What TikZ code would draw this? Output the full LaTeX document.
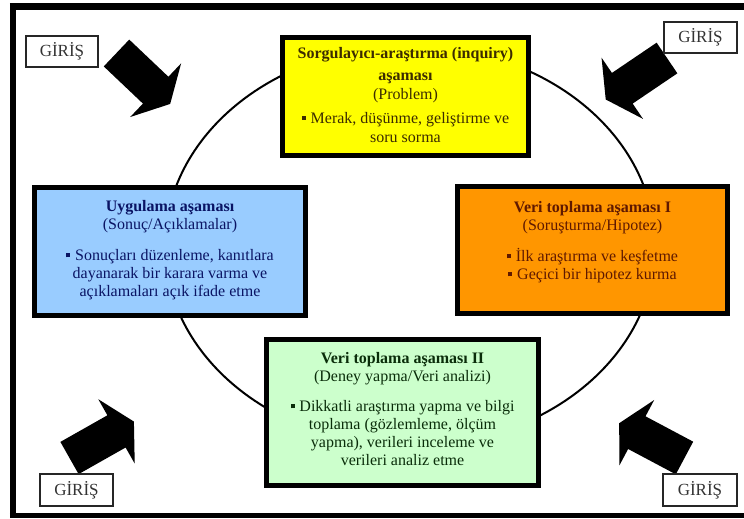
\documentclass[tikz,border=0pt]{standalone}
\usepackage{fontspec}
\setmainfont{Liberation Serif}
\usetikzlibrary{positioning}
\definecolor{probfill}{RGB}{255,255,0}
\definecolor{probink}{RGB}{60,44,0}
\definecolor{uygfill}{RGB}{153,204,255}
\definecolor{uygink}{RGB}{10,20,100}
\definecolor{veriAfill}{RGB}{255,150,0}
\definecolor{veriAink}{RGB}{95,25,0}
\definecolor{veriBfill}{RGB}{204,255,204}
\definecolor{veriBink}{RGB}{10,45,10}
\newcommand{\sqbullet}{\raisebox{0.2em}{\rule{0.26em}{0.26em}}\hspace{0.3em}}

\begin{document}
\begin{tikzpicture}[x=1pt,y=-1pt]
\tikzset{
  phasebox/.style={draw=black,line width=4.5pt,inner sep=0pt},
  phasetext/.style={align=center,inner sep=0pt,font=\fontsize{16}{18}\selectfont},
  girisbox/.style={draw=black!85,line width=1.2pt,fill=white,minimum width=73pt,
                   minimum height=31pt,inner sep=0pt,font=\fontsize{17}{20}\selectfont,text=black!80},
  entryarrow/.pic={\fill[black] (0,-18.5) -- (54,-18.5) -- (54,-37) -- (74,0)
                   -- (54,37) -- (54,18.5) -- (0,18.5) -- cycle;}
}
\useasboundingbox (0,0) rectangle (744,519);
\fill[white] (0,0) rectangle (744,519);
% outer frame, cut at the right
\draw[line width=7pt] (9.75,7) -- (760,7);
\draw[line width=6.5pt] (13,3.5) -- (13,518);
\draw[line width=5pt] (9.75,515.5) -- (760,515.5);
% the cycle
\draw[line width=2pt] (410,246) ellipse [x radius=245pt, y radius=200pt];
% entry arrows
\pic[rotate=-43.5] at (116.5,53) {entryarrow};
\pic[rotate=-145.9] at (667,58) {entryarrow};
\pic[rotate=29.5] at (69.5,458) {entryarrow};
\pic[rotate=152] at (684.5,458) {entryarrow};
% phases
\node[phasebox,fill=probfill,minimum width=246pt,minimum height=118pt] (prob) at (405.5,96.5) {};
\node[phasetext,text=probink,font=\fontsize{16}{19.5}\selectfont,below=12pt of prob.north] (probtext)
  {\textbf{Sorgulayıcı-araştırma (inquiry)}\\[2pt] \textbf{aşaması}\\ (Problem)\\[4pt]
   \sqbullet Merak, düşünme, geliştirme ve\\ soru sorma};
\node[phasebox,fill=veriAfill,minimum width=270pt,minimum height=127pt] (veriA) at (592.5,250) {};
\node[phasetext,text=veriAink,below=17pt of veriA.north] (veriAtext)
  {\textbf{Veri toplama aşaması I}\\ (Soruşturma/Hipotez)\\[13pt]
   \sqbullet İlk araştırma ve keşfetme\\ \sqbullet Geçici bir hipotez kurma};
\node[phasebox,fill=veriBfill,minimum width=272pt,minimum height=146pt] (veriB) at (402.5,412.5) {};
\node[phasetext,text=veriBink,below=15pt of veriB.north] (veriBtext)
  {\textbf{Veri toplama aşaması II}\\ (Deney yapma/Veri analizi)\\[12pt]
   \sqbullet Dikkatli araştırma yapma ve bilgi\\ toplama (gözlemleme, ölçüm\\
   yapma), verileri inceleme ve\\ verileri analiz etme};
\node[phasebox,fill=uygfill,minimum width=271pt,minimum height=128pt] (uyg) at (170,251.5) {};
\node[phasetext,text=uygink,below=15pt of uyg.north] (uygtext)
  {\textbf{Uygulama aşaması}\\ (Sonuç/Açıklamalar)\\[13pt]
   \sqbullet Sonuçları düzenleme, kanıtlara\\ dayanarak bir karara varma ve\\
   açıklamaları açık ifade etme};
% entry labels
\node[girisbox,minimum width=72pt] (giristl) at (62,51.5) {GİRİŞ};
\node[girisbox] (giristr) at (700.5,37.5) {GİRİŞ};
\node[girisbox,minimum height=32pt] (girisbl) at (76.5,490) {GİRİŞ};
\node[girisbox,minimum width=74pt,minimum height=32pt] (girisbr) at (700,490) {GİRİŞ};
\end{tikzpicture}
\end{document}
